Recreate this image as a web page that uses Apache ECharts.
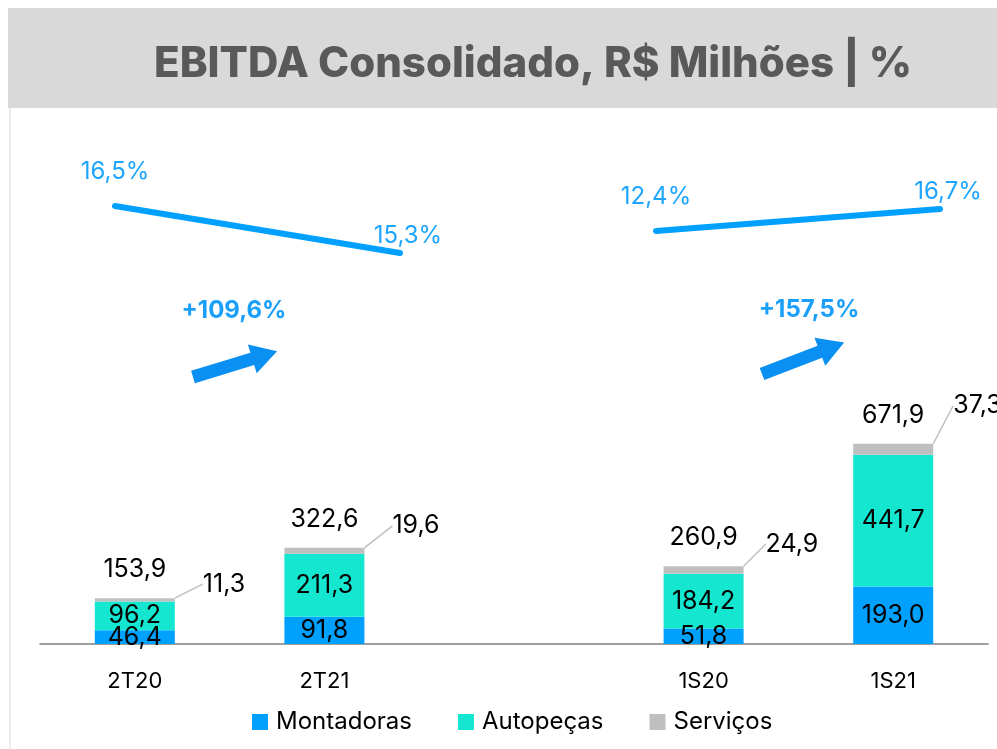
<!DOCTYPE html>
<html>
<head>
<meta charset="utf-8">
<title>EBITDA Consolidado</title>
<script src="https://cdn.jsdelivr.net/npm/echarts@6/dist/echarts.min.js"></script>
<style>
  html, body { margin: 0; padding: 0; background: #fff; }
  #chart { width: 997px; height: 749px; }
</style>
</head>
<body>
<div id="chart"></div>
<script>
// dados (R$ milhões), o '' é só o espaço entre trimestre e semestre
const categories = ['2T20', '2T21', '', '1S20', '1S21'];
const montadoras = [46.4, 91.8, null, 51.8, 193.0];
const autopecas = [96.2, 211.3, null, 184.2, 441.7];
const servicos = [11.3, 19.6, null, 24.9, 37.3];
const totais = [153.9, 322.6, null, 260.9, 671.9];
// margem EBITDA %
const margemTri = [16.5, 15.3];   // 2T20 -> 2T21
const margemSem = [12.4, 16.7];   // 1S20 -> 1S21

const FONT = 'Inter';
const AZUL = '#00a0ff';
const fmt = v => v.toFixed(1).replace('.', ',');
const cresc = (a, b) => '+' + fmt((b / a - 1) * 100) + '%';

// deslocamento dos rótulos de serviços (a partir do canto sup. direito da barra)
const servShift = [[28, -14], [28, -22], null, [22, -22], [20, -38]];

const chart = echarts.init(document.getElementById('chart'));

function margemData(arr) {
  return arr.map((v, i) => ({
    value: v,
    label: i === 0
      ? { position: 'top', distance: 22 }
      : { position: 'top', distance: 5, offset: [8, 0] }
  }));
}

const lineSeries = (name, data, idx) => ({
  name: name,
  type: 'line',
  xAxisIndex: idx,
  yAxisIndex: idx,
  data: margemData(data),
  symbol: 'circle',
  symbolSize: 1,
  itemStyle: { color: AZUL },
  lineStyle: { color: AZUL, width: 6, cap: 'round' },
  label: {
    show: true,
    color: '#1ea5ff',
    fontSize: 24,
    fontFamily: FONT,
    formatter: p => fmt(p.value) + '%'
  },
  silent: true,
  animation: false
});

const barLabel = {
  show: true, position: 'inside', color: '#000', fontSize: 25, fontFamily: FONT,
  formatter: p => fmt(p.value)
};

chart.setOption({
  animation: false,
  textStyle: { fontFamily: FONT },
  title: {
    text: 'EBITDA Consolidado, R$ Milhões | %',
    left: 528,
    top: 38,
    textAlign: 'center',
    textStyle: { fontSize: 42, fontWeight: 800, color: '#595959', fontFamily: FONT }
  },
  graphic: [
    { type: 'rect', z: -10, shape: { x: 8, y: 8, width: 989, height: 100 }, style: { fill: '#d9d9d9' } },
    { type: 'line', shape: { x1: 10, y1: 108, x2: 10, y2: 749 }, style: { stroke: '#d9d9d9', lineWidth: 1 } },
    {
      type: 'text', x: 234, y: 311,
      style: { text: cresc(totais[0], totais[1]), fill: '#1aa0fa', font: 'bold 24px ' + FONT, align: 'center', verticalAlign: 'middle' }
    },
    {
      type: 'text', x: 809, y: 310,
      style: { text: cresc(totais[3], totais[4]), fill: '#1aa0fa', font: 'bold 24px ' + FONT, align: 'center', verticalAlign: 'middle' }
    },
    {
      type: 'polygon', x: 193, y: 377, rotation: 17 * Math.PI / 180,
      shape: { points: [[0, -6.5], [62, -6.5], [62, -15], [88, 0], [62, 15], [62, 6.5], [0, 6.5]] },
      style: { fill: '#0a8ff2' }
    },
    {
      type: 'polygon', x: 762, y: 374, rotation: 21 * Math.PI / 180,
      shape: { points: [[0, -6.5], [62, -6.5], [62, -15], [88, 0], [62, 15], [62, 6.5], [0, 6.5]] },
      style: { fill: '#0a8ff2' }
    }
  ],
  legend: {
    data: ['Montadoras', 'Autopeças', 'Serviços'],
    left: 247,
    top: 705,
    icon: 'rect',
    itemWidth: 16,
    itemHeight: 16,
    itemGap: 46,
    textStyle: { fontSize: 24, color: '#000', fontFamily: FONT, padding: [0, 0, 0, 3] }
  },
  grid: [
    { left: 40, right: 9, top: 194, bottom: 105 },
    { left: 115, width: 285, top: 206, height: 47 },
    { left: 656, width: 284, top: 209, height: 22 }
  ],
  xAxis: [
    {
      type: 'category',
      data: categories,
      axisTick: { show: false },
      axisLine: { lineStyle: { color: '#7f7f7f', width: 1.5 } },
      axisLabel: { color: '#000', fontSize: 22, margin: 26, fontFamily: FONT }
    },
    { type: 'category', gridIndex: 1, data: ['2T20', '2T21'], boundaryGap: false, show: false },
    { type: 'category', gridIndex: 2, data: ['1S20', '1S21'], boundaryGap: false, show: false }
  ],
  yAxis: [
    { type: 'value', min: 0, max: 1510, show: false, splitLine: { show: false } },
    { type: 'value', gridIndex: 1, show: false, scale: true, min: v => v.min, max: v => v.max },
    { type: 'value', gridIndex: 2, show: false, scale: true, min: v => v.min, max: v => v.max }
  ],
  series: [
    {
      name: 'Montadoras',
      type: 'bar',
      stack: 'ebitda',
      barWidth: 80,
      data: montadoras,
      itemStyle: { color: AZUL },
      label: barLabel
    },
    {
      name: 'Autopeças',
      type: 'bar',
      stack: 'ebitda',
      data: autopecas,
      itemStyle: { color: '#14e6cf' },
      label: barLabel
    },
    {
      name: 'Serviços',
      type: 'bar',
      stack: 'ebitda',
      data: servicos,
      itemStyle: { color: '#bfbfbf' },
      label: Object.assign({}, barLabel, { position: 'right' }),
      labelLayout: p => {
        const s = servShift[p.dataIndex];
        if (!s) return {};
        return {
          x: p.rect.x + p.rect.width + s[0],
          y: p.rect.y + s[1],
          align: 'left',
          verticalAlign: 'middle'
        };
      },
      labelLine: { show: true, lineStyle: { color: '#bfbfbf', width: 1.5 } }
    },
    {
      name: 'Total',
      type: 'bar',
      stack: 'ebitda',
      data: totais.map(v => (v == null ? null : 0)),
      itemStyle: { color: 'transparent' },
      label: {
        show: true, position: 'top', distance: 16, color: '#000', fontSize: 25, fontFamily: FONT,
        formatter: p => fmt(totais[p.dataIndex])
      }
    },
    lineSeries('Margem Tri', margemTri, 1),
    lineSeries('Margem Sem', margemSem, 2)
  ]
});
</script>
</body>
</html>
